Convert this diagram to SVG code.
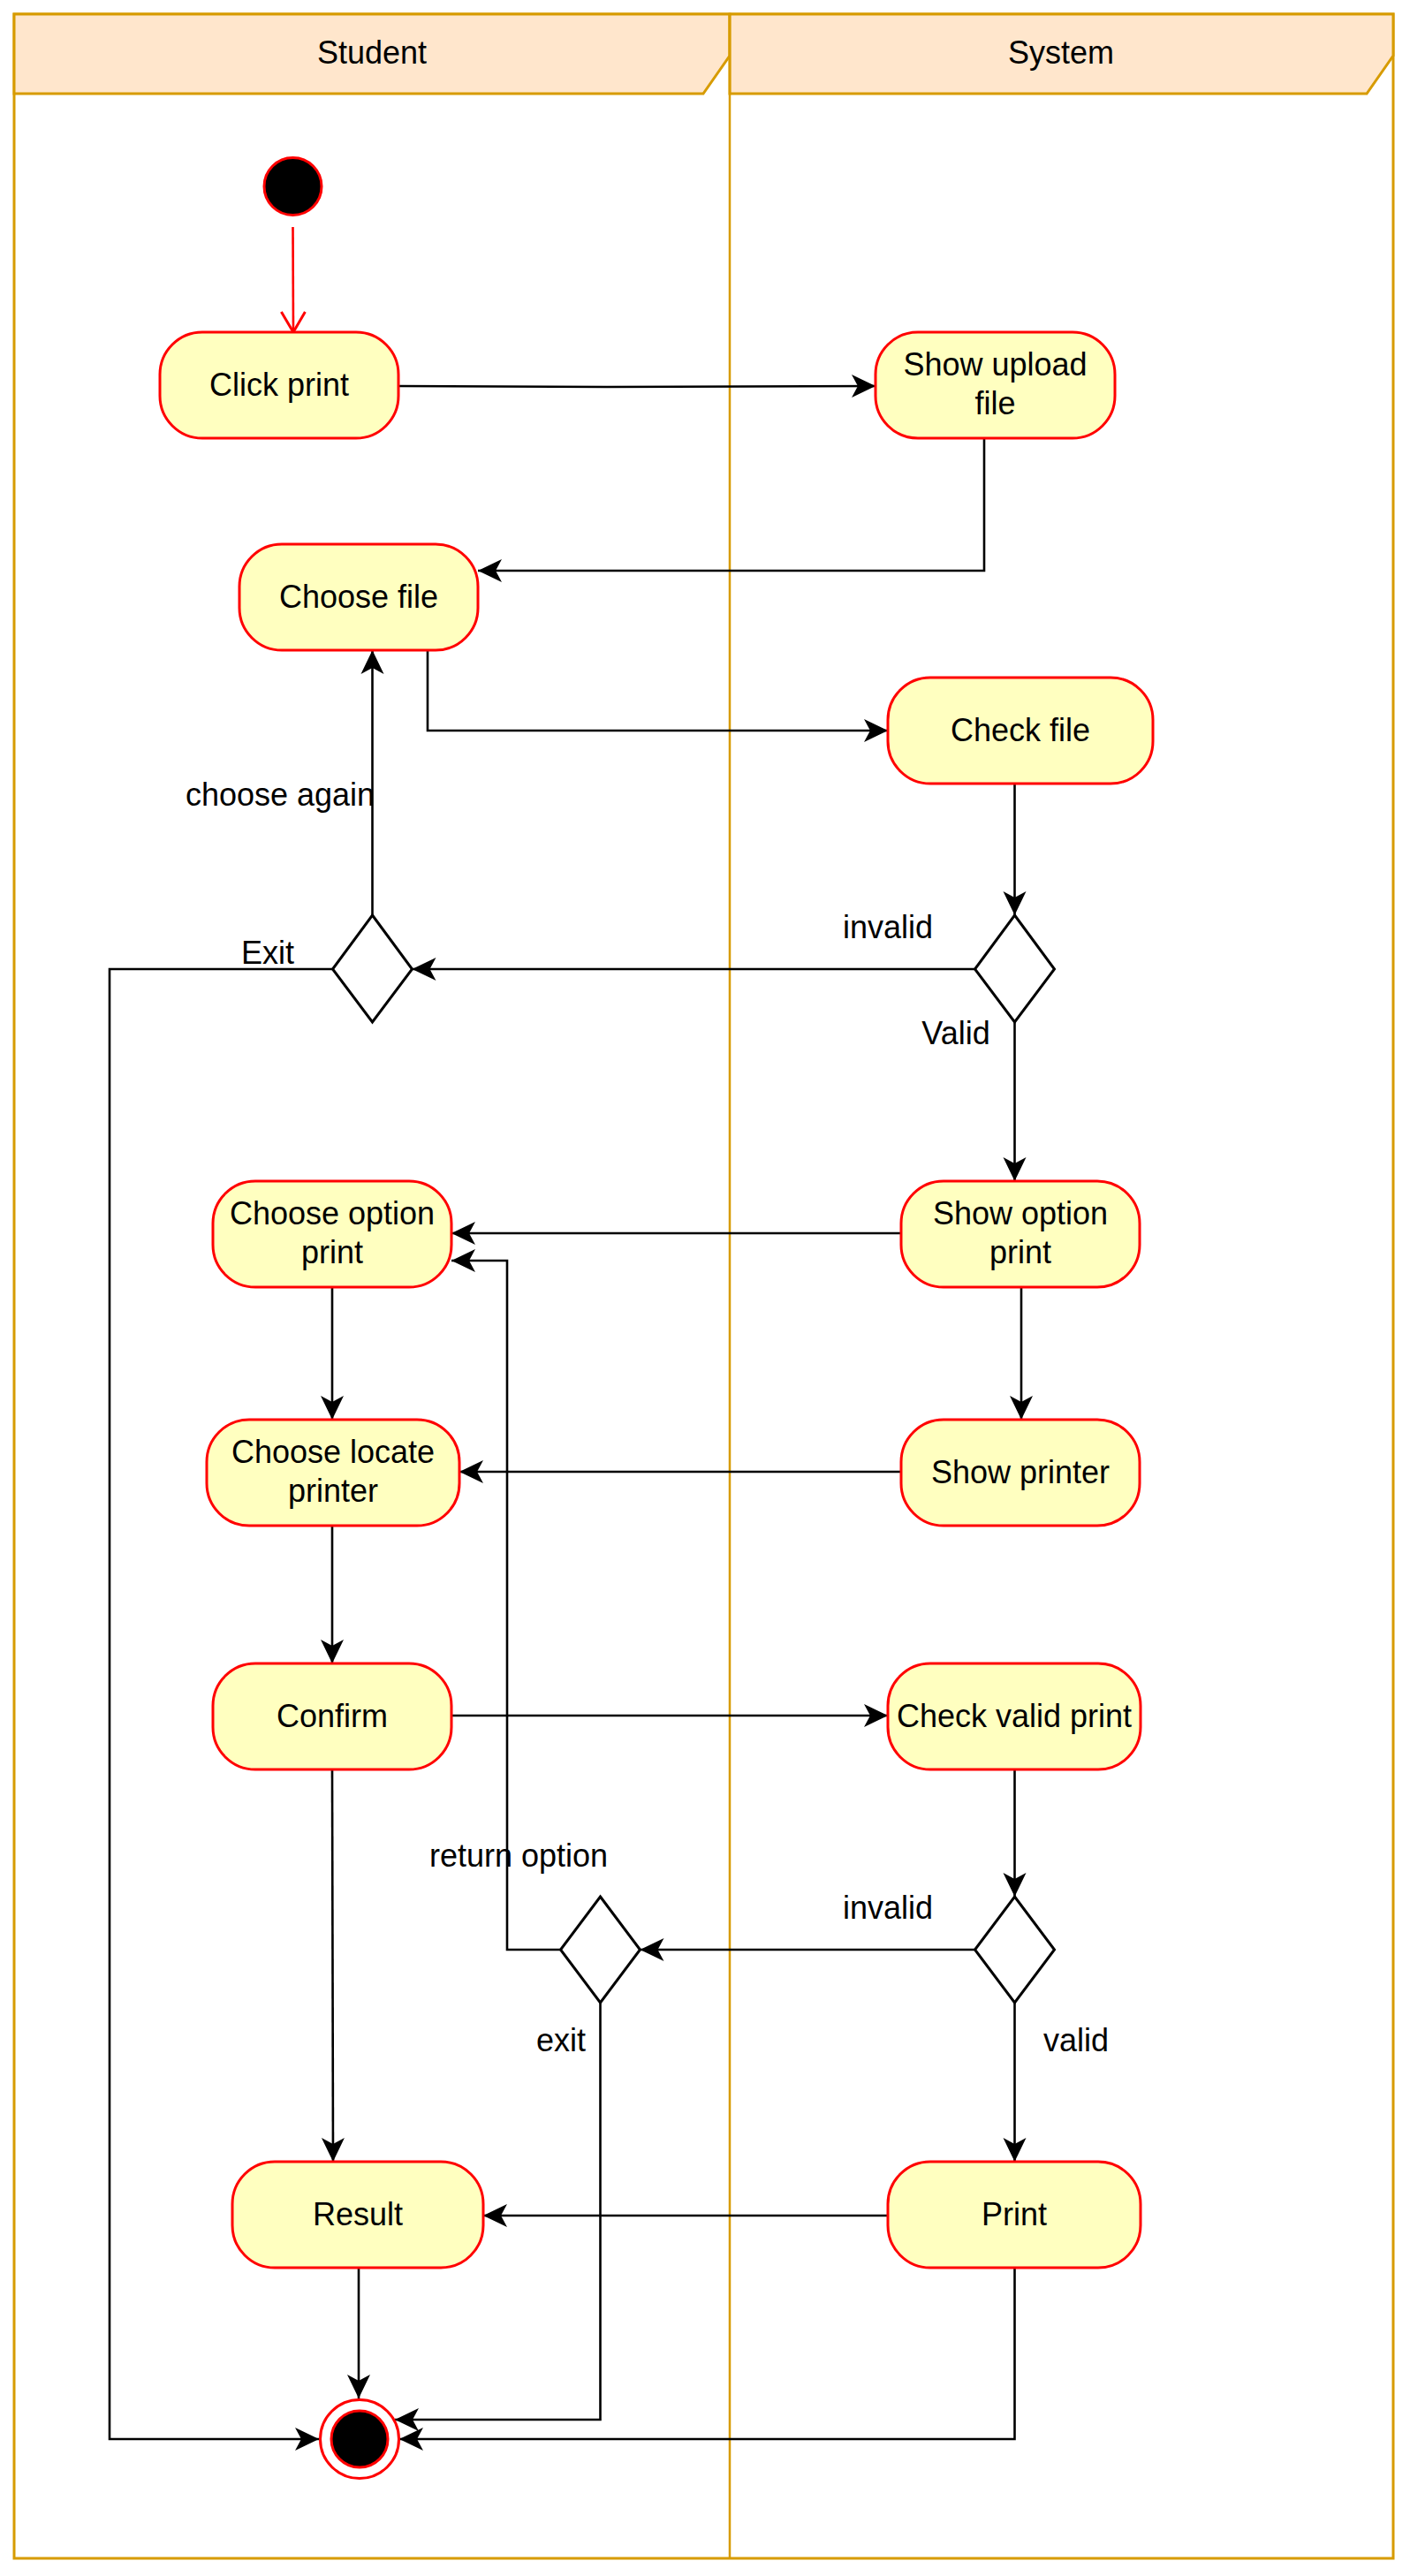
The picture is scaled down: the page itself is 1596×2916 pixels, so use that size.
<svg xmlns="http://www.w3.org/2000/svg" width="1596" height="2916" viewBox="0 0 1596 2916">
<defs>
<style>
.t{font-family:"Liberation Sans",Arial,Helvetica,sans-serif;font-size:36px;fill:#000;text-anchor:middle}
.node{fill:#ffffc0;stroke:#ff0000;stroke-width:3}
.dia{fill:#fff;stroke:#000;stroke-width:3;stroke-linejoin:miter}
.edge{fill:none;stroke:#000;stroke-width:2.6;marker-end:url(#arr)}
.lane{fill:none;stroke:#d79b00;stroke-width:3}
.hdr{fill:#ffe6cc;stroke:#d79b00;stroke-width:3}
</style>
<marker id="arr" viewBox="-28 -14 30 28" refX="0" refY="0" markerWidth="30" markerHeight="28" orient="auto" markerUnits="userSpaceOnUse">
<path d="M0,0 L-27,-13 L-20,0 L-27,13 Z" fill="#000"/>
</marker>
<marker id="open" viewBox="-26 -16 28 32" refX="0" refY="0" markerWidth="28" markerHeight="32" orient="auto" markerUnits="userSpaceOnUse">
<path d="M-23,-13.5 L0,0 L-23,13.5" fill="none" stroke="#ff0000" stroke-width="3"/>
</marker>
</defs>
<rect width="1596" height="2916" fill="#fff"/>
<g id="pool">
<rect class="lane" x="16" y="16" width="1561" height="2880" fill="#fff"/>
<polygon class="hdr" points="16,16 826,16 826,63 796,106 16,106"/>
<polygon class="hdr" points="826,16 1577,16 1577,63 1547,106 826,106"/>
<line x1="826" y1="16" x2="826" y2="2896" stroke="#d79b00" stroke-width="2.5"/>
<text class="t" x="421" y="72">Student</text>
<text class="t" x="1201" y="72">System</text>
</g>
<g id="connectors">
<path d="M331.5,257 L332,376" fill="none" stroke="#ff0000" stroke-width="2.6" marker-end="url(#open)"/>
<path class="edge" d="M451,437 L687,438 L991,437"/>
<path class="edge" d="M1114,496 V646 H541"/>
<path class="edge" d="M484,736 V827 H1005"/>
<path class="edge" d="M1148.5,887 V1036"/>
<path class="edge" d="M1103.5,1097 H466.5"/>
<path class="edge" d="M421.5,1036 V736"/>
<path class="edge" d="M376.5,1097 H124 V2761 H361"/>
<path class="edge" d="M1148.5,1157 V1337"/>
<path class="edge" d="M1020,1396 H511"/>
<path class="edge" d="M1156,1457 V1607"/>
<path class="edge" d="M1020,1666 H520"/>
<path class="edge" d="M376,1457 V1607"/>
<path class="edge" d="M376,1727 V1883"/>
<path class="edge" d="M511,1942 H1005"/>
<path class="edge" d="M1148.5,2003 V2147"/>
<path class="edge" d="M1103.5,2207 H724.5"/>
<path class="edge" d="M634.5,2207 H574 V1427 H511"/>
<path class="edge" d="M679.5,2267 V2739 H447"/>
<path class="edge" d="M1148.5,2267 V2447"/>
<path class="edge" d="M1005,2508 H547"/>
<path class="edge" d="M376,2003 L377,2447"/>
<path class="edge" d="M406,2567 V2715"/>
<path class="edge" d="M1148.5,2567 V2761 H452"/>
</g>
<g id="labels">
<text class="t" x="317" y="912">choose again</text>
<text class="t" x="303" y="1091">Exit</text>
<text class="t" x="1005" y="1062">invalid</text>
<text class="t" x="1082" y="1182">Valid</text>
<text class="t" x="587" y="2113">return option</text>
<text class="t" x="1005" y="2172">invalid</text>
<text class="t" x="635" y="2322">exit</text>
<text class="t" x="1218" y="2322">valid</text>
</g>
<g id="start"><circle cx="331.5" cy="211" r="32.5" fill="#000" stroke="#ff0000" stroke-width="3"/></g>
<g id="click-print"><rect class="node" x="181" y="376" width="270" height="120" rx="48"/><text class="t" x="316" y="448">Click print</text></g>
<g id="show-upload-file"><rect class="node" x="991" y="376" width="271" height="120" rx="48"/><text class="t" x="1126.5" y="425">Show upload</text><text class="t" x="1126.5" y="469">file</text></g>
<g id="choose-file"><rect class="node" x="271" y="616" width="270" height="120" rx="48"/><text class="t" x="406" y="688">Choose file</text></g>
<g id="check-file"><rect class="node" x="1005" y="767" width="300" height="120" rx="48"/><text class="t" x="1155" y="839">Check file</text></g>
<g id="decision-file"><polygon class="dia" points="1148.5,1036 1193.5,1097 1148.5,1157 1103.5,1097"/></g>
<g id="decision-again"><polygon class="dia" points="421.5,1036 466.5,1097 421.5,1157 376.5,1097"/></g>
<g id="show-option-print"><rect class="node" x="1020" y="1337" width="270" height="120" rx="48"/><text class="t" x="1155" y="1386">Show option</text><text class="t" x="1155" y="1430">print</text></g>
<g id="choose-option-print"><rect class="node" x="241" y="1337" width="270" height="120" rx="48"/><text class="t" x="376" y="1386">Choose option</text><text class="t" x="376" y="1430">print</text></g>
<g id="choose-locate-printer"><rect class="node" x="234" y="1607" width="286" height="120" rx="48"/><text class="t" x="377" y="1656">Choose locate</text><text class="t" x="377" y="1700">printer</text></g>
<g id="show-printer"><rect class="node" x="1020" y="1607" width="270" height="120" rx="48"/><text class="t" x="1155" y="1679">Show printer</text></g>
<g id="confirm"><rect class="node" x="241" y="1883" width="270" height="120" rx="48"/><text class="t" x="376" y="1955">Confirm</text></g>
<g id="check-valid-print"><rect class="node" x="1005" y="1883" width="286" height="120" rx="48"/><text class="t" x="1148" y="1955">Check valid print</text></g>
<g id="decision-return"><polygon class="dia" points="679.5,2147 724.5,2207 679.5,2267 634.5,2207"/></g>
<g id="decision-valid"><polygon class="dia" points="1148.5,2147 1193.5,2207 1148.5,2267 1103.5,2207"/></g>
<g id="result"><rect class="node" x="263" y="2447" width="284" height="120" rx="48"/><text class="t" x="405" y="2519">Result</text></g>
<g id="print"><rect class="node" x="1005" y="2447" width="286" height="120" rx="48"/><text class="t" x="1148" y="2519">Print</text></g>
<g id="end"><circle cx="407" cy="2761" r="44.5" fill="#fff" stroke="#ff0000" stroke-width="3"/><circle cx="407" cy="2761" r="32" fill="#000" stroke="#ff0000" stroke-width="3"/></g>
</svg>
